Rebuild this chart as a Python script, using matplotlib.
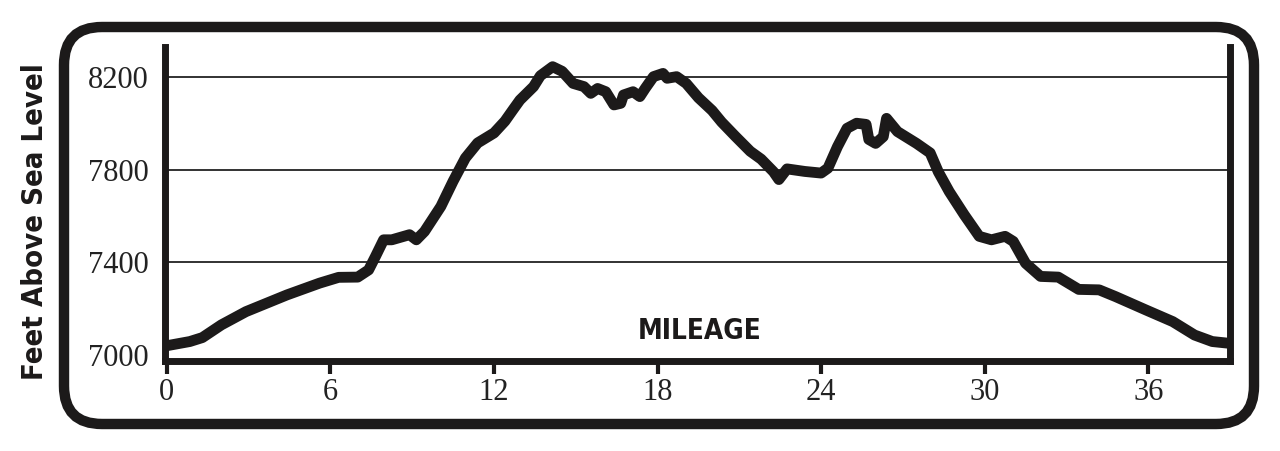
import matplotlib
matplotlib.use("Agg")
import matplotlib.pyplot as plt
from matplotlib.patches import FancyBboxPatch
from matplotlib.transforms import IdentityTransform

# Data
mileage = [0, 0.84, 1.3, 2.0, 2.9, 4.4, 5.6, 6.3, 7.0, 7.4, 7.65, 7.95, 8.25, 8.9, 9.15,
           9.45, 10.05, 10.5, 10.95, 11.4, 12.0, 12.4, 12.7, 12.95, 13.2, 13.45, 13.7,
           14.15, 14.5, 14.9, 15.3, 15.55, 15.8, 16.1, 16.4, 16.65, 16.75, 17.1, 17.35,
           17.55, 17.85, 18.2, 18.35, 18.7, 19.05, 19.5, 20.0, 20.35, 20.85, 21.4, 21.8,
           22.25, 22.45, 22.75, 23.4, 24.0, 24.25, 24.6, 24.95, 25.3, 25.65, 25.75, 26.0,
           26.28, 26.4, 26.8, 27.5, 28.0, 28.3, 28.7, 29.25, 29.8, 30.25, 30.75, 31.05,
           31.5, 32.05, 32.7, 33.45, 34.2, 34.8, 35.9, 36.9, 37.7, 38.35, 39.0]
elevation = [7040, 7058, 7075, 7130, 7187, 7259, 7310, 7335, 7336, 7367, 7425, 7497, 7497,
             7519, 7497, 7533, 7641, 7750, 7850, 7915, 7958, 8009, 8059, 8100, 8129, 8158,
             8205, 8244, 8224, 8172, 8158, 8129, 8150, 8136, 8079, 8086, 8122, 8136, 8115,
             8151, 8201, 8215, 8194, 8201, 8172, 8110, 8055, 8005, 7944, 7879, 7845, 7791,
             7757, 7803, 7792, 7785, 7806, 7899, 7978, 8000, 7995, 7930, 7913, 7942, 8021,
             7964, 7913, 7872, 7790, 7705, 7605, 7512, 7497, 7512, 7490, 7396, 7339, 7336,
             7283, 7281, 7252, 7195, 7144, 7086, 7058, 7050]
x_ticks = [0, 6, 12, 18, 24, 30, 36]
y_ticks = [7000, 7400, 7800, 8200]
grid_levels = [7400, 7800, 8200]

W, H = 1280, 451
fig = plt.figure(figsize=(W / 100, H / 100), dpi=100)
fig.patch.set_facecolor("white")

# axes placement in pixels
left_px, right_px, top_px, bot_px = 165, 1230, 47, 361
ax = fig.add_axes([left_px / W, (H - bot_px) / H, (right_px - left_px) / W, (bot_px - top_px) / H])
ax.set_xlim(-0.07, 39.0)
ax.set_ylim(6974, 8329)

for g in grid_levels:
    ax.axhline(g, color="#222222", lw=1.3, zorder=1)

ax.plot(mileage, elevation, color="#1c1a1a", lw=7.8, solid_joinstyle="round",
        solid_capstyle="butt", zorder=3, clip_on=False)

ax.spines["top"].set_visible(False)
for s in ["left", "right", "bottom"]:
    ax.spines[s].set_linewidth(5)
    ax.spines[s].set_color("#1c1a1a")

serif = ["Liberation Serif", "DejaVu Serif"]
ax.set_xticks(x_ticks)
ax.set_xticklabels([str(t) for t in x_ticks], family=serif, fontsize=22, color="#222222")
ax.set_yticks(y_ticks)
ax.set_yticklabels([str(t) for t in y_ticks], family=serif, fontsize=22, color="#222222")
ax.tick_params(axis="x", length=9, width=3, color="#1c1a1a", pad=3, direction="out")
ax.tick_params(axis="y", length=0, pad=12)

fig.text(35 / W, (H - 222) / H, "Feet Above Sea Level", rotation=90, ha="center", va="center",
         family="DejaVu Sans", fontstretch="condensed", fontweight="bold", fontsize=21,
         color="#1c1a1a")
fig.text(700 / W, (H - 331) / H, "MILEAGE", ha="center", va="center",
         family="DejaVu Sans", fontstretch="condensed", fontweight="bold", fontsize=20,
         color="#1c1a1a")

frame = FancyBboxPatch((64, H - 424), 1254 - 64, 424 - 27,
                       boxstyle="round,pad=0,rounding_size=38",
                       transform=IdentityTransform(), fill=False,
                       edgecolor="#1c1a1a", linewidth=7.5)
fig.add_artist(frame)

fig.savefig("out.png", dpi=100, facecolor="white")
